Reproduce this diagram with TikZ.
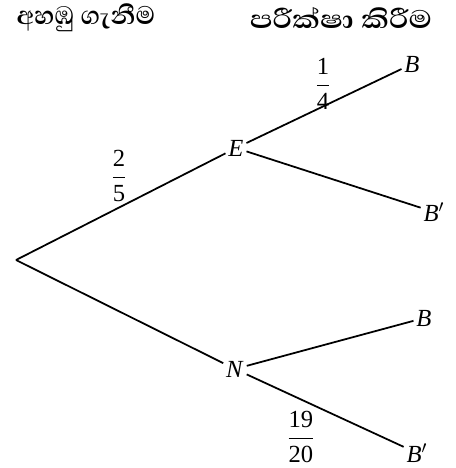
\documentclass[tikz,border=0pt]{standalone}
\usepackage{amsmath}
\usepackage{fontspec}
\setmainfont{Liberation Serif}
\newfontfamily\sinhalafont[Script=Sinhala]{Abhaya Libre}
\begin{document}
\begin{tikzpicture}[x=0.02cm,y=-0.02cm,
  every node/.style={font=\fontsize{14}{16}\selectfont},
  lbl/.style={inner sep=1.5pt},
  head/.style={font=\sinhalafont\bfseries\fontsize{18.5}{22}\selectfont},
  branch/.style={line width=1pt}]
\useasboundingbox (0,0) rectangle (456,468);
% headings
\node[head] (h1) at (86,18) {අහඹු ගැනීම};
\node[head,xscale=1.2,transform shape] (h2) at (341,18) {පරීක්ෂා කිරීම};
% tree
\coordinate (o) at (16,260);
\node[lbl] (E) at (236,148) {\textit{E}};
\node[lbl] (N) at (235,369) {\textit{N}};
\node[lbl] (EB) at (412,64) {\textit{B}};
\node[lbl] (EBc) at (434,212) {\textit{B}$'$};
\node[lbl] (NB) at (424,318) {\textit{B}};
\node[lbl] (NBc) at (417,453) {\textit{B}$'$};
\draw[branch] (o) -- (E);
\draw[branch] (o) -- (N);
\draw[branch] (E) -- (EB);
\draw[branch] (E) -- (EBc);
\draw[branch] (N) -- (NB);
\draw[branch] (N) -- (NBc);
% probabilities
\node (p25) at (119,176) {$\dfrac{\textrm{2}}{\textrm{5}}$};
\node (p14) at (323,84) {$\dfrac{\textrm{1}}{\textrm{4}}$};
\node (p1920) at (301,437) {$\dfrac{\textrm{19}}{\textrm{20}}$};
\end{tikzpicture}
\end{document}
